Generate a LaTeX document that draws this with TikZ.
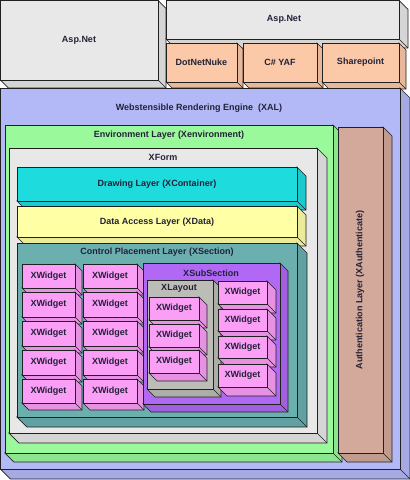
\documentclass[tikz,border=0pt]{standalone}
\usepackage{fontspec}
\setmainfont{Liberation Sans}
\definecolor{edgec}{HTML}{202020}
\definecolor{txtc}{HTML}{222238}
\definecolor{cgray}{HTML}{E8E8E8}
\definecolor{cpeach}{HTML}{FBC8A8}
\definecolor{cblue}{HTML}{B3B9F7}
\definecolor{cgreen}{HTML}{9AF99B}
\definecolor{cbrown}{HTML}{D3A99B}
\definecolor{ccyan}{HTML}{1EDBDE}
\definecolor{cyellow}{HTML}{FFFFA6}
\definecolor{cteal}{HTML}{6BAFAF}
\definecolor{cpink}{HTML}{FA9EF6}
\definecolor{cpurple}{HTML}{B068F5}
\definecolor{clayout}{HTML}{BDBDB8}
\newcommand\tdbox[6]{%
  \filldraw[boxedge, fill=#6!92!black] (#3,#2) -- ++(#5,#5) -- (#3+#5,#4+#5) -- (#1+#5,#4+#5) -- (#1,#4) -- (#3,#4) -- cycle;
  \draw[boxedge] (#3,#4) -- ++(#5,#5);
  \filldraw[boxedge, fill=#6] (#1,#2) rectangle (#3,#4);
}
\tikzset{
  boxedge/.style={draw=edgec, line width=0.7pt, line join=miter},
  lbl/.style={font=\bfseries\fontsize{9}{10}\selectfont, text=txtc, inner sep=0pt},
}
\begin{document}
\begin{tikzpicture}[x=1pt,y=-1pt]
\useasboundingbox (0,0) rectangle (410,480);
% top row
\tdbox{0.4}{0.4}{158}{80}{8}{cgray}
\tdbox{166}{0.4}{399}{39}{9}{cgray}
\tdbox{166}{43}{237}{82}{6}{cpeach}
\tdbox{243}{43}{317}{82}{6}{cpeach}
\tdbox{322}{43}{399}{82}{7}{cpeach}
\node[lbl] (asp1) at (79,40) {Asp.Net};
\node[lbl] (asp2) at (284,19) {Asp.Net};
\node[lbl] (dnn) at (201.5,62.5) {DotNetNuke};
\node[lbl] (yaf) at (280,62.5) {C\# YAF};
\node[lbl] (sp) at (360.5,62.5) {Sharepoint};
% XAL
\tdbox{0.4}{88}{400}{469}{10}{cblue}
\node[lbl] (xal) at (199,108) {Webstensible Rendering Engine\ \ (XAL)};
% Environment
\tdbox{5}{125}{333}{453}{9}{cgreen}
\node[lbl] (env) at (169,135) {Environment Layer (Xenvironment)};
% Authentication
\tdbox{338}{127}{383}{453}{9}{cbrown}
\node[lbl, rotate=90] (auth) at (360,290) {Authentication Layer (XAuthenticate)};
% XForm
\tdbox{9}{148}{317}{433}{10}{cgray}
\node[lbl] (xform) at (163,157.5) {XForm};
% Layers
\tdbox{17}{167}{297}{201}{9}{ccyan}
\node[lbl] (draw) at (157,184) {Drawing Layer (XContainer)};
\tdbox{17}{206}{297}{237}{9}{cyellow}
\node[lbl] (data) at (157,222) {Data Access Layer (XData)};
\tdbox{17}{243}{297}{417}{10}{cteal}
\node[lbl] (ctrl) at (157,252) {Control Placement Layer (XSection)};
% left widgets
\foreach \t/\b [count=\i] in {264/288,292/317,321/346,350/375,379/403}{
  \tdbox{22}{\t}{75}{\b}{7}{cpink}
  \node[lbl] (wa\i) at (48.5,{(\t+\b)/2}) {XWidget};
  \tdbox{83}{\t}{137}{\b}{7}{cpink}
  \node[lbl] (wb\i) at (110,{(\t+\b)/2}) {XWidget};
}
% XSubSection
\tdbox{143}{263}{280}{404}{8}{cpurple}
\node[lbl] (sub) at (211,273) {XSubSection};
\tdbox{147}{280}{213}{389}{8}{clayout}
\node[lbl] (lay) at (179,288.5) {XLayout};
\foreach \t/\b [count=\i] in {297/320,324/347,350/373}{
  \tdbox{149}{\t}{199}{\b}{8}{cpink}
  \node[lbl] (wl\i) at (174,{(\t+\b)/2}) {XWidget};
}
\foreach \t/\b [count=\i] in {281/304,309/331,336/358,364/387}{
  \tdbox{218}{\t}{267}{\b}{9}{cpink}
  \node[lbl] (wr\i) at (242.5,{(\t+\b)/2}) {XWidget};
}
\end{tikzpicture}
\end{document}
